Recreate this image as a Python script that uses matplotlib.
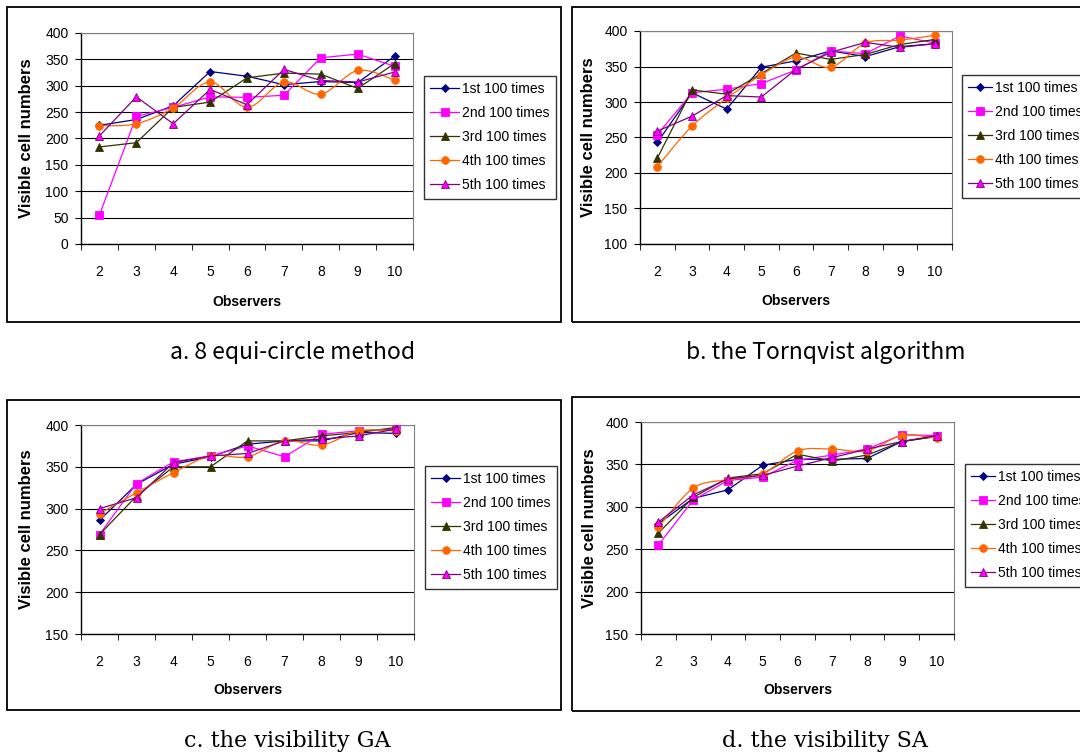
import matplotlib.pyplot as plt
from matplotlib.lines import Line2D
from matplotlib.patches import PathPatch, Rectangle
from matplotlib.path import Path
import numpy as np

W, H = 1080, 753

observers = [2, 3, 4, 5, 6, 7, 8, 9, 10]
series_names = ["1st 100 times", "2nd 100 times", "3rd 100 times",
                "4th 100 times", "5th 100 times"]

# a. 8 equi-circle method
equi_1 = [225, 236, 262, 327, 318, 302, 308, 306, 356]
equi_2 = [55, 242, 259, 279, 278, 282, 353, 360, 337]
equi_3 = [184, 192, 259, 269, 315, 324, 322, 295, 342]
equi_4 = [224, 228, 258, 307, 259, 307, 284, 329, 311]
equi_5 = [205, 279, 228, 293, 264, 331, 310, 307, 326]

# b. the Tornqvist algorithm
torn_1 = [243, 313, 290, 349, 358, 372, 364, 378, 382]
torn_2 = [254, 313, 318, 326, 345, 372, 368, 393, 383]
torn_3 = [221, 317, 311, 340, 369, 360, 367, 381, 388]
torn_4 = [209, 266, 305, 338, 363, 349, 383, 387, 394]
torn_5 = [259, 280, 309, 307, 346, 370, 384, 377, 382]

# c. the visibility GA
ga_1 = [286, 329, 353, 362, 377, 381, 381, 391, 390]
ga_2 = [269, 330, 356, 363, 375, 362, 389, 393, 395]
ga_3 = [269, 315, 350, 350, 381, 381, 387, 391, 397]
ga_4 = [294, 319, 343, 363, 362, 381, 376, 393, 393]
ga_5 = [300, 313, 355, 363, 366, 381, 383, 387, 395]

# d. the visibility SA
sa_1 = [280, 310, 320, 349, 356, 356, 357, 377, 383]
sa_2 = [255, 308, 331, 335, 355, 361, 368, 385, 384]
sa_3 = [269, 311, 334, 339, 362, 354, 361, 377, 383]
sa_4 = [276, 322, 332, 339, 366, 368, 366, 384, 381]
sa_5 = [282, 314, 333, 337, 348, 358, 368, 377, 384]

line_colors = ["#000080", "#FF00FF", "#333300", "#FF6600", "#800080"]
face_colors = ["#000080", "#FF00FF", "#333300", "#FF6600", "#FF00FF"]
markers = ["D", "s", "^", "o", "^"]
msizes = [4, 5.5, 5.5, 5.5, 5.5]
smooth = [False, False, False, True, False]

panels = [
    dict(data=[equi_1, equi_2, equi_3, equi_4, equi_5], ylim=(0, 400),
         ax=(81, 33, 413, 244), frame=(7, 7, 561, 322), legend=(424, 76, 2.1),
         ylab_x=34, xlab_y=295, caption="a. 8 equi-circle method",
         cap_xy=(293, 352), serif=False),
    dict(data=[torn_1, torn_2, torn_3, torn_4, torn_5], ylim=(100, 400),
         ax=(640, 31, 952, 244), frame=(572, 7, 1090, 322), legend=(962, 75, 1.7),
         ylab_x=596, xlab_y=294, caption="b. the Tornqvist algorithm",
         cap_xy=(826, 352), serif=False),
    dict(data=[ga_1, ga_2, ga_3, ga_4, ga_5], ylim=(150, 400),
         ax=(81, 425, 414, 634), frame=(7, 400, 561, 710), legend=(425, 466, 2.1),
         ylab_x=34, xlab_y=683, caption="c. the visibility GA",
         cap_xy=(287, 741), serif=True),
    dict(data=[sa_1, sa_2, sa_3, sa_4, sa_5], ylim=(150, 400),
         ax=(641, 422, 954, 634), frame=(572, 397, 1090, 711), legend=(965, 464, 1.7),
         ylab_x=597, xlab_y=683, caption="d. the visibility SA",
         cap_xy=(825, 741), serif=True),
]


def smooth_path(x, y):
    # Catmull-Rom style curve through the points, as Excel's smoothed line
    pts = np.column_stack([x, y]).astype(float)
    verts = [pts[0]]
    codes = [Path.MOVETO]
    n = len(pts)
    for i in range(n - 1):
        p0 = pts[max(i - 1, 0)]
        p1, p2 = pts[i], pts[i + 1]
        p3 = pts[min(i + 2, n - 1)]
        verts += [p1 + (p2 - p0) / 6, p2 - (p3 - p1) / 6, p2]
        codes += [Path.CURVE4] * 3
    return Path(verts, codes)


plt.rcParams["font.family"] = ["Liberation Sans", "DejaVu Sans"]
fig = plt.figure(figsize=(W / 100, H / 100), dpi=100)

for p in panels:
    x0, y0, x1, y1 = p["frame"]
    fig.patches.append(Rectangle((x0 / W, 1 - y1 / H), (x1 - x0) / W, (y1 - y0) / H,
                                 transform=fig.transFigure, fill=False,
                                 ec="black", lw=1.3))
    a0, b0, a1, b1 = p["ax"]
    ax = fig.add_axes([a0 / W, 1 - b1 / H, (a1 - a0) / W, (b1 - b0) / H])

    handles = []
    for k, ys in enumerate(p["data"]):
        if smooth[k]:
            ax.add_patch(PathPatch(smooth_path(observers, ys), fill=False,
                                   ec=line_colors[k], lw=0.9, zorder=3 + k))
            ls = "none"
        else:
            ls = "-"
        ax.plot(observers, ys, ls=ls, color=line_colors[k], lw=0.9,
                marker=markers[k], ms=msizes[k], mfc=face_colors[k],
                mec=line_colors[k], mew=0.6, zorder=3 + k)
        handles.append(Line2D([], [], color=line_colors[k], lw=0.9,
                              marker=markers[k], ms=msizes[k], mfc=face_colors[k],
                              mec=line_colors[k], mew=0.6))

    ax.set_xlim(1.5, 10.5)
    ax.set_ylim(*p["ylim"])
    ax.set_xticks(observers)
    ax.set_xticks(np.arange(1.5, 10.6, 1), minor=True)
    ax.set_yticks(np.arange(p["ylim"][0], 401, 50))
    ax.tick_params(axis="x", which="major", length=0, pad=15, labelsize=10)
    ax.tick_params(axis="x", which="minor", length=4, direction="out")
    ax.tick_params(axis="y", length=4, direction="out", pad=5, labelsize=10)
    ax.yaxis.grid(True, color="black", lw=0.8)
    ax.set_axisbelow(True)
    for side in ["top", "right"]:
        ax.spines[side].set_color("#808080")
        ax.spines[side].set_linewidth(0.8)
    for side in ["left", "bottom"]:
        ax.spines[side].set_linewidth(1.0)

    ax.set_ylabel("Visible cell numbers", fontsize=12, fontweight="bold")
    ax.yaxis.set_label_coords((p["ylab_x"] - a0) / (a1 - a0), 0.5)
    ax.set_xlabel("Observers", fontsize=10, fontweight="bold")
    ax.xaxis.set_label_coords(0.5, -(p["xlab_y"] - b1) / (b1 - b0))

    lx, ly, hl = p["legend"]
    leg = ax.legend(handles, series_names, loc="upper left",
                    bbox_to_anchor=(lx / W, 1 - ly / H), bbox_transform=fig.transFigure,
                    fontsize=10, frameon=True, fancybox=False, edgecolor="black",
                    borderaxespad=0, borderpad=0.45, labelspacing=0.72,
                    handlelength=hl, handletextpad=0.2)
    leg.get_frame().set_linewidth(1.0)

    if p["serif"]:
        fig.text(p["cap_xy"][0] / W, 1 - p["cap_xy"][1] / H, p["caption"],
                 ha="center", va="center", fontsize=16,
                 family=["DejaVu Serif"])
    else:
        fig.text(p["cap_xy"][0] / W, 1 - p["cap_xy"][1] / H, p["caption"],
                 ha="center", va="center", fontsize=16.5,
                 family=["Noto Sans CJK KR", "DejaVu Sans"])

plt.savefig("out.png", dpi=100)
